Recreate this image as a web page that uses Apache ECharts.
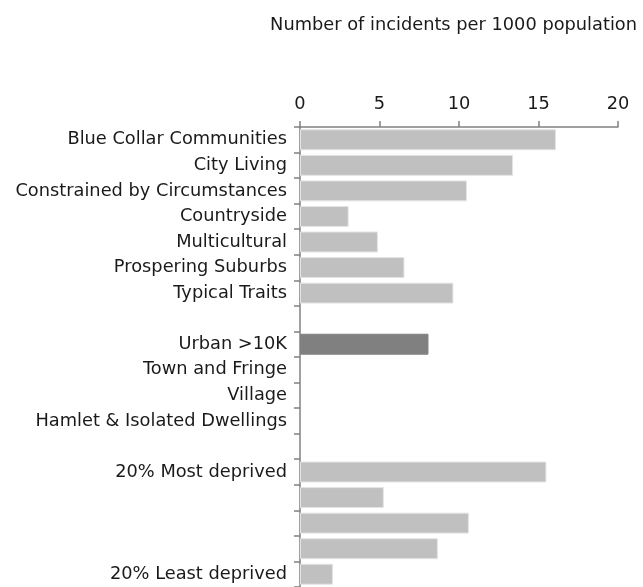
<!DOCTYPE html>
<html><head><meta charset="utf-8">
<script src="https://cdn.jsdelivr.net/npm/echarts@6/dist/echarts.min.js"></script>
<style>html,body{margin:0;padding:0;background:#fff}#c{width:643px;height:587px}</style>
</head><body><div id="c"></div>
<script>
const categories = ['Blue Collar Communities','City Living','Constrained by Circumstances','Countryside','Multicultural','Prospering Suburbs','Typical Traits','','Urban >10K','Town and Fringe','Village','Hamlet & Isolated Dwellings','','20% Most deprived','','','','20% Least deprived'];
const values = [16.1, 13.4, 10.5, 3.06, 4.9, 6.57, 9.65, null, 8.08, null, null, null, null, 15.5, 5.27, 10.62, 8.67, 2.08];
const xTicks = [0, 5, 10, 15, 20];
const highlighted = 'Urban >10K';
const axisTitle = 'Number of incidents per 1000 population';

const FONT = 'DejaVu Sans';
const FS = 17.8;
const chart = echarts.init(document.getElementById('c'), null, {renderer:'canvas'});
chart.setOption({
  animation:false,
  grid:{left:300, top:127, width:318, height:461},
  title:{text:axisTitle, right:1, top:11, textStyle:{fontFamily:FONT, fontSize:FS, fontWeight:'normal', color:'#1a1a1a'}},
  xAxis:{type:'value', position:'top', min:xTicks[0], max:xTicks[xTicks.length-1], interval:5,
    axisLine:{show:true, lineStyle:{color:'#808080', width:1.5}},
    axisTick:{show:true, length:6, lineStyle:{color:'#808080', width:1.5}},
    axisLabel:{fontFamily:FONT, fontSize:FS, color:'#1a1a1a', margin:14},
    splitLine:{show:false}},
  yAxis:{type:'category', inverse:true, data:categories,
    axisLine:{show:true, lineStyle:{color:'#808080', width:1.5}},
    axisTick:{show:true, length:6, lineStyle:{color:'#808080', width:1.5}},
    axisLabel:{fontFamily:FONT, fontSize:FS, color:'#1a1a1a', margin:13}},
  series:[{type:'bar', barCategoryGap:'18%',
    data: values.map((v,i)=> categories[i]===highlighted ? {value:v, itemStyle:{color:'#808080', borderColor:'#808080'}} : v),
    itemStyle:{color:'#c0c0c0', borderColor:'#e4e4e4', borderWidth:1}}]
});
</script></body></html>
